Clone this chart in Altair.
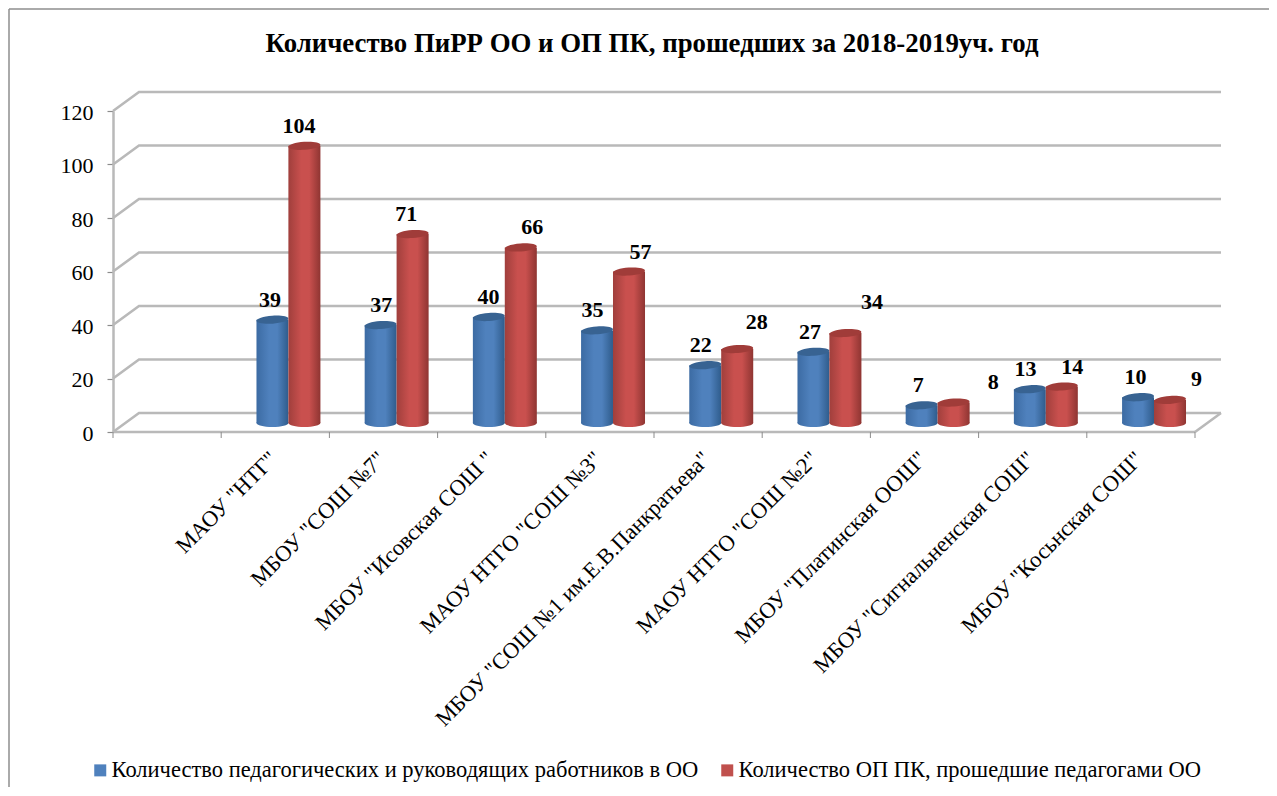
import json
import altair as alt
import pandas as pd

TITLE = "Количество ПиРР ОО и ОП ПК, прошедших за 2018-2019уч. год"
CATEGORIES = ['МАОУ "НТГ"', 'МБОУ "СОШ №7"', 'МБОУ "Исовская СОШ "', 'МАОУ НТГО "СОШ №3"',
              'МБОУ "СОШ №1 им.Е.В.Панкратьева"', 'МАОУ НТГО "СОШ №2"', 'МБОУ "Платинская ООШ"',
              'МБОУ "Сигнальненская СОШ"', 'МБОУ "Косьнская СОШ"']
SERIES_A = "Количество педагогических и руководящих работников в ОО"
SERIES_B = "Количество ОП ПК, прошедшие педагогами ОО"
VALUES_A = [39, 37, 40, 35, 22, 27, 7, 13, 10]
VALUES_B = [104, 71, 66, 57, 28, 34, 8, 14, 9]
NUDGE_A = [(-2, 0), (1, 0), (0, 0), (-4, 0), (-4, 0), (-3, 0), (-3, 0), (-4, 0), (-2, 0)]
NUDGE_B = [(-5, 0), (-6, 0), (12, 0), (12, 0), (20, 7), (27, 11), (40, 1), (11, 0), (27, 1)]
Y_TICKS = [0, 20, 40, 60, 80, 100, 120]

W, H = 1082, 321
PX_X = W / 10
PX_Y = H / 120
SLOTS = 10
DEPTH_X, DEPTH_Y = 26 / PX_X, 19 / PX_Y
BASE = 8 / PX_Y
BASE_FOOT = 9 / PX_Y
SERIF = "Liberation Serif"


def grad(edge_l, mid, edge_r):
    return alt.Gradient(gradient="linear", x1=0, x2=1, y1=0, y2=0, stops=[
        alt.GradientStop(color=edge_l, offset=0),
        alt.GradientStop(color=mid, offset=0.4),
        alt.GradientStop(color=mid, offset=0.65),
        alt.GradientStop(color=edge_r, offset=1)])


xs = alt.Scale(domain=[0, SLOTS], nice=False, zero=False)
ys = alt.Scale(domain=[0, 120], nice=False, zero=False)
X = alt.X("x:Q", scale=xs, title=None)
Y = alt.Y("y:Q", scale=ys, title=None)

# Walls and floor
rows = []
for v in Y_TICKS:
    for k, (x, y) in enumerate([(0, v), (DEPTH_X, v + DEPTH_Y), (SLOTS + DEPTH_X, v + DEPTH_Y)]):
        rows.append({"x": x, "y": y, "g": f"w{v}", "k": k})
for k, (x, y) in enumerate([(SLOTS, 0), (SLOTS + DEPTH_X, DEPTH_Y)]):
    rows.append({"x": x, "y": y, "g": "edge", "k": k})
for k, (x, y) in enumerate([(0, 0), (SLOTS, 0)]):
    rows.append({"x": x, "y": y, "g": "front", "k": k})
walls = alt.Chart(pd.DataFrame(rows)).mark_line(color="#b9b9b9", strokeWidth=2.6).encode(
    x=X, y=Y, detail="g:N", order="k:Q")

ticks_df = pd.DataFrame({"x": list(range(SLOTS + 1)), "y": [0.0] * (SLOTS + 1),
                         "y2": [-6 / PX_Y] * (SLOTS + 1)})
x_ticks = alt.Chart(ticks_df).mark_rule(color="#8c8c8c", strokeWidth=1).encode(x=X, y=Y, y2="y2:Q")

# Real axes
label_expr = json.dumps(CATEGORIES, ensure_ascii=False) + "[datum.value - 1.5]"
axes = alt.Chart(pd.DataFrame({"x": [i + 1.5 for i in range(9)], "y": [0.0] * 9})).mark_point(opacity=0).encode(
    x=alt.X("x:Q", scale=xs, title=None, axis=alt.Axis(
        values=[i + 1.5 for i in range(9)], labelExpr=label_expr, labelAngle=315, labelAlign="right",
        labelBaseline="middle", ticks=False, domain=False, grid=False, labelFont=SERIF, labelFontSize=22.5,
        labelColor="black", labelPadding=23, labelOffset=-2, labelLimit=0, labelOverlap=False, labelBound=False,
        labelFlush=False)),
    y=alt.Y("y:Q", scale=ys, title=None, axis=alt.Axis(
        values=Y_TICKS, grid=False, domainColor="#b9b9b9", domainWidth=2.5, tickColor="#8c8c8c", tickSize=6,
        tickWidth=1.2, labelFont=SERIF, labelFontSize=22, labelColor="black", labelPadding=14, labelOffset=1)),
)

ELLIPSE = "M-1,0A1,0.25,0,1,1,1,0A1,0.25,0,1,1,-1,0Z"


def series(values, start, stop, body, cap):
    df = pd.DataFrame({"x": [i + start for i in range(9)], "x2": [i + stop for i in range(9)],
                       "y": [BASE + v for v in values], "y0": [BASE_FOOT] * 9})
    df["xm"] = (df["x"] + df["x2"]) / 2
    xm = alt.X("xm:Q", scale=xs, title=None)
    bottom = alt.Chart(df).mark_point(shape=ELLIPSE, size=1024, filled=True, opacity=1, fill=body, strokeWidth=0).encode(
        x=xm, y=alt.Y("y0:Q", scale=ys, title=None))
    bar = alt.Chart(df).mark_bar(fill=body).encode(
        x=X, x2="x2:Q", y=Y, y2="y0:Q")
    top = alt.Chart(df).mark_point(shape=ELLIPSE, size=1024, filled=True, opacity=1, fill=cap, strokeWidth=0, angle=356).encode(
        x=xm, y=Y)
    return [bottom, bar, top]


blue = series(VALUES_A, 1.326, 1.621, grad("#3c6ba3", "#4f81bd", "#2f5c8c"), "#386392")
red = series(VALUES_B, 1.621, 1.917, grad("#a03f3c", "#c9504e", "#8f3532"), "#a03c39")

# Value labels
lab_rows = []
for vals, nudges, centre in ((VALUES_A, NUDGE_A, 1.4695), (VALUES_B, NUDGE_B, 1.765)):
    for i, (v, (dx, dy)) in enumerate(zip(vals, nudges)):
        lab_rows.append({"x": i + centre + dx / PX_X, "y": BASE + v + (20 + dy) / PX_Y, "t": str(v)})
labels = alt.Chart(pd.DataFrame(lab_rows)).mark_text(
    font=SERIF, fontSize=22, fontWeight="bold", color="black", baseline="middle", align="center"
).encode(x=X, y=Y, text="t:N")

# Legend carrier
leg_df = pd.DataFrame({"x": [0.0, 0.0], "y": [0.0, 0.0], "s": [SERIES_A, SERIES_B]})
legend = alt.Chart(leg_df).mark_square(opacity=0).encode(
    x=X, y=Y,
    color=alt.Color("s:N", scale=alt.Scale(domain=[SERIES_A, SERIES_B], range=["#4f81bd", "#c0504d"]),
                    legend=alt.Legend(orient="none", legendX=-24, legendY=648, direction="horizontal", columns=2,
                                      title=None, symbolType="square", symbolSize=144, symbolOpacity=1,
                                      symbolStrokeWidth=0, labelFont=SERIF, labelFontSize=22.5, labelColor="black",
                                      labelLimit=0, columnPadding=17, labelOffset=0)))

frame_left = alt.Chart(pd.DataFrame({"a": [0]})).mark_rule(color="#8e8e8e", strokeWidth=1.5).encode(
    x=alt.value(-104), y=alt.value(-102), y2=alt.value(676))
frame_top = alt.Chart(pd.DataFrame({"a": [0]})).mark_rule(color="#8e8e8e", strokeWidth=1.5).encode(
    x=alt.value(-104), x2=alt.value(1157), y=alt.value(-102))

chart = alt.layer(axes, frame_left, frame_top, walls, x_ticks, *blue, *red, labels, legend).properties(
    width=W, height=H,
    title=alt.TitleParams(TITLE, font=SERIF, fontSize=26.8, fontWeight="bold", color="black", anchor="middle",
                          frame="group", offset=0, dx=-2, dy=71, baseline="alphabetic"),
    padding={"left": 105, "top": 103, "right": 74, "bottom": 356},
    autosize=alt.AutoSizeParams(type="none"),
).configure_view(stroke=None)

chart.save("out.html", embed_options={"renderer": "svg", "actions": False})
